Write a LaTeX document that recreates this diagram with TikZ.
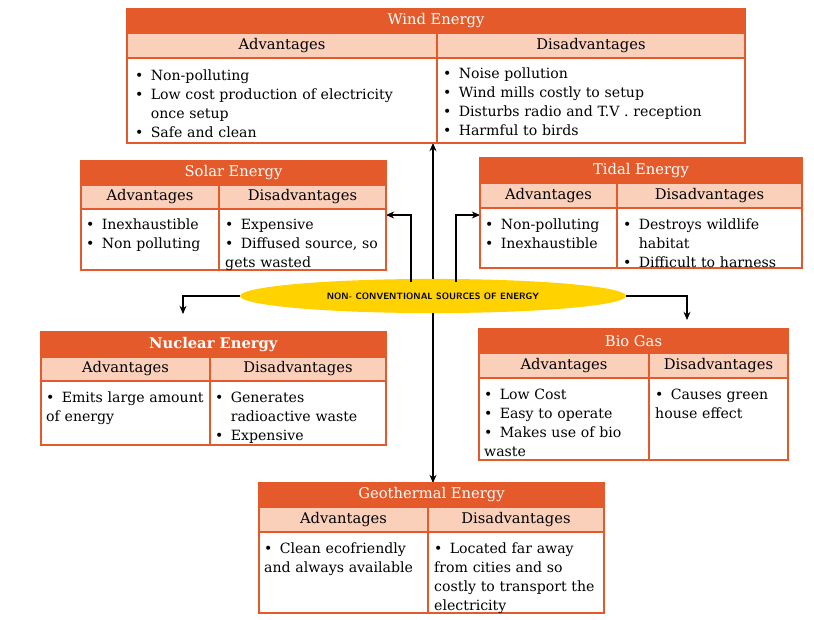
\documentclass[tikz,border=0pt]{standalone}
\usepackage{fontspec}
\setmainfont{DejaVu Serif}
\usetikzlibrary{shapes.geometric,arrows.meta}
\definecolor{tit}{HTML}{E55A2B}
\definecolor{hdr}{HTML}{FBD0BB}
\definecolor{ell}{HTML}{FFD200}
\newcommand{\itm}[1]{\par\hyphenpenalty=10000\exhyphenpenalty=10000\hangindent=1.1em\hangafter=1\noindent\makebox[1.1em][l]{\textbullet}#1}
\newcommand{\etab}[9]{%
 \fill[tit] (#2,#5) rectangle (#4,#6);
 \fill[hdr] (#2,#6) rectangle (#4,#7);
 \draw[bord] (#2,#5) rectangle (#4,#8);
 \draw[bord] (#2,#6) -- (#4,#6) (#2,#7) -- (#4,#7) (#3,#6) -- (#3,#8);
 \node[ttl] (#1) at ({(#2+#4)/2},{(#5+#6)/2}) {#9};
 \coordinate (#1-h1) at ({(#2+#3)/2},{(#6+#7)/2}); \coordinate (#1-h2) at ({(#3+#4)/2},{(#6+#7)/2});
}
\tikzset{bord/.style={draw=tit,line width=1.2pt},
 ttl/.style={text=white,font=\fontsize{12.5}{14}\selectfont},
 hd/.style={font=\fontsize{12.5}{14}\selectfont},
 bd/.style={font=\fontsize{12}{16.2}\selectfont,anchor=north west,align=left,inner sep=0pt},
 arr/.style={-{Stealth[length=7pt,width=6pt]},line width=0.9pt}}
\begin{document}
\begin{tikzpicture}[x=0.85pt,y=-0.85pt]
\useasboundingbox (0,0) rectangle (814,619);
\node[ellipse,fill=ell,minimum width=328pt,minimum height=29pt,inner sep=0pt,font=\fontsize{7.8}{9}\selectfont\bfseries\sffamily] (src) at (433,296) {NON- CONVENTIONAL SOURCES OF ENERGY};
\coordinate (wb) at (433,143); \coordinate (gb) at (433,483);
\coordinate (sa) at (386,215); \coordinate (ta) at (480,215);
\coordinate (na) at (183,314); \coordinate (ba) at (687,320);
\draw[arr] (src.north) -- (wb);
\draw[arr] (src.south) -- (gb);
\draw[arr] (411,282) |- (sa);
\draw[arr] (456,282) |- (ta);
\draw[arr] (src.west) -| (na);
\draw[arr] (src.east) -| (ba);
\etab{wind}{127}{437}{745}{9}{33}{58}{143}{Wind Energy}
\node[hd] at (wind-h1) {Advantages}; \node[hd] at (wind-h2) {Disadvantages};
\node[bd,text width=250pt] at (135,61) {\itm{Non-polluting}\itm{Low cost production of electricity once setup}\itm{Safe and clean}};
\node[bd,text width=255pt] at (443,59) {\itm{Noise pollution}\itm{Wind mills costly to setup}\itm{Disturbs radio and T.V . reception}\itm{Harmful to birds}};
\etab{solar}{81}{219}{386}{161}{185}{209}{270}{Solar Energy}
\node[hd] at (solar-h1) {Advantages}; \node[hd] at (solar-h2) {Disadvantages};
\node[bd,text width=115pt] at (86,210) {\itm{Inexhaustible}\itm{Non polluting}};
\node[bd,text width=135pt] at (225,210) {\itm{Expensive}\itm{Diffused source, so gets wasted}};
\etab{tidal}{480}{617}{802}{158}{183}{208}{268}{Tidal Energy}
\node[hd] at (tidal-h1) {Advantages}; \node[hd] at (tidal-h2) {Disadvantages};
\node[bd,text width=115pt] at (485,210) {\itm{Non-polluting}\itm{Inexhaustible}};
\node[bd,text width=150pt] at (623,210) {\itm{Destroys wildlife habitat}\itm{Difficult to harness}};
\etab{nuc}{41}{210}{386}{332}{357}{381}{445}{\textbf{Nuclear Energy}}
\node[hd] at (nuc-h1) {Advantages}; \node[hd] at (nuc-h2) {Disadvantages};
\node[bd,text width=138pt] at (46,383) {\itm{Emits large amount of energy}};
\node[bd,text width=142pt] at (215,383) {\itm{Generates radioactive waste}\itm{Expensive}};
\etab{bio}{479}{649}{788}{329}{353}{378}{460}{Bio Gas}
\node[hd] at (bio-h1) {Advantages}; \node[hd] at (bio-h2) {Disadvantages};
\node[bd,text width=140pt] at (484,380) {\itm{Low Cost}\itm{Easy to operate}\itm{Makes use of bio waste}};
\node[bd,text width=110pt] at (655,380) {\itm{Causes green house effect}};
\etab{geo}{259}{428}{604}{483}{507}{532}{613}{Geothermal Energy}
\node[hd] at (geo-h1) {Advantages}; \node[hd] at (geo-h2) {Disadvantages};
\node[bd,text width=138pt] at (264,534) {\itm{Clean ecofriendly and always available}};
\node[bd,text width=145pt] at (434,534) {\itm{Located far away from cities and so costly to transport the electricity}};
\end{tikzpicture}
\end{document}
